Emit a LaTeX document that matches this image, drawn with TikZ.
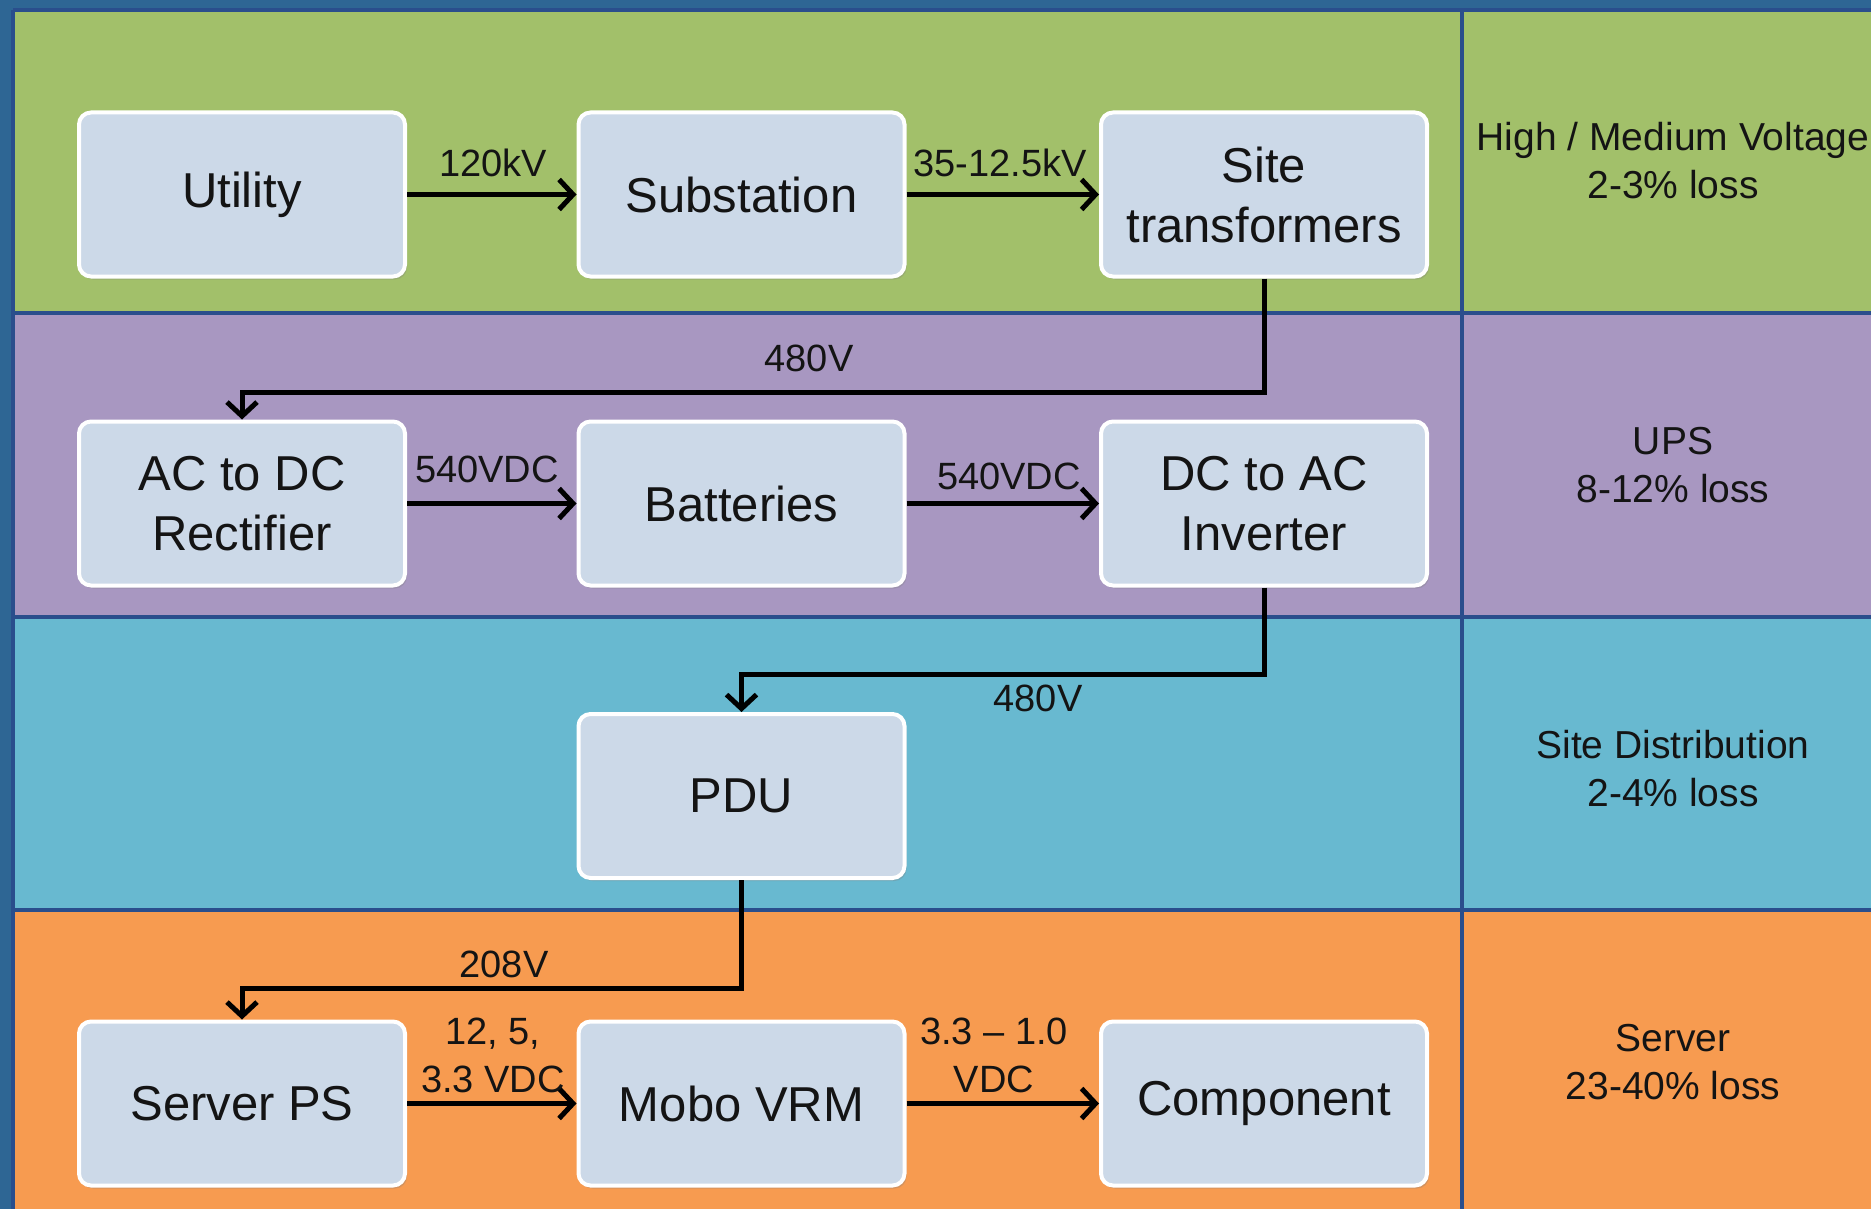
\documentclass[tikz,border=0pt]{standalone}
\usepackage{fontspec}
\setmainfont{Liberation Sans}
\usetikzlibrary{arrows.meta,shadows}
\definecolor{frameblue}{HTML}{2E6694}
\definecolor{divblue}{HTML}{2A4E8C}
\definecolor{bandgreen}{HTML}{A2C06A}
\definecolor{bandpurple}{HTML}{A897C1}
\definecolor{bandteal}{HTML}{68B9D0}
\definecolor{bandorange}{HTML}{F79B50}
\definecolor{boxfill}{HTML}{CCD9E8}
\definecolor{textdark}{HTML}{141414}
\begin{document}
\begin{tikzpicture}[x=1pt,y=-1pt,
  box/.style={draw=white, line width=4pt, rounded corners=12pt, fill=boxfill,
    minimum width=326pt, minimum height=164pt, align=center, inner sep=0pt,
    text=textdark, font=\fontsize{49}{60}\selectfont,
    drop shadow={shadow xshift=2pt, shadow yshift=-3pt, opacity=0.3}},
  lbl/.style={inner sep=0pt, align=center, text=textdark, font=\fontsize{38}{48}\selectfont},
  side/.style={inner sep=0pt, align=center, text=textdark, font=\fontsize{39}{48}\selectfont},
  arr/.style={draw=black, line width=5pt, -{Straight Barb[length=14pt,width=30pt]}},
  divider/.style={draw=divblue, line width=4pt}]
\useasboundingbox (0,0) rectangle (1871,1209);
\clip (0,0) rectangle (1871,1209);
% frame and bands
\fill[frameblue] (0,0) rectangle (1871,1209);
\fill[bandgreen] (13,10) rectangle (1871,313);
\fill[bandpurple] (13,313) rectangle (1871,617);
\fill[bandteal] (13,617) rectangle (1871,910);
\fill[bandorange] (13,910) rectangle (1871,1209);
\draw[divider] (13,10) -- (1871,10);
\draw[divider] (13,10) -- (13,1209);
\draw[divider] (13,313) -- (1871,313);
\draw[divider] (13,617) -- (1871,617);
\draw[divider] (13,910) -- (1871,910);
\draw[divider] (1462,10) -- (1462,1209);
% boxes
\node[box] (ut) at (242,194.5) {Utility};
\node[box] (sub) at (741.5,194.5) {Substation};
\node[box] (st) at (1264,194.5) {Site\\transformers};
\node[box] (acdc) at (242,503.5) {AC to DC\\Rectifier};
\node[box] (bat) at (741.5,503.5) {Batteries};
\node[box] (dcac) at (1264,503.5) {DC to AC\\Inverter};
\node[box] (pdu) at (741.5,796) {PDU};
\node[box] (sps) at (242,1103.5) {Server PS};
\node[box] (vrm) at (741.5,1103.5) {Mobo VRM};
\node[box] (comp) at (1264,1103.5) {Component};
% junction coordinates
\coordinate (k1) at (242,392);
\coordinate (k2) at (741.5,674);
\coordinate (k3) at (242,988);
% connectors
\draw[arr] (ut.east) -- (sub.west);
\draw[arr] (sub.east) -- (st.west);
\draw[arr, line join=miter] (st.south) |- (k1) -- (acdc.north);
\draw[arr] (acdc.east) -- (bat.west);
\draw[arr] (bat.east) -- (dcac.west);
\draw[arr, line join=miter] (dcac.south) |- (k2) -- (pdu.north);
\draw[arr, line join=miter] (pdu.south) |- (k3) -- (sps.north);
\draw[arr] (sps.east) -- (vrm.west);
\draw[arr] (vrm.east) -- (comp.west);
% connector labels
\node[lbl] (l1) at (493,163) {120kV};
\node[lbl] (l2) at (1000,163) {35-12.5kV};
\node[lbl] (l3) at (809,358) {480V};
\node[lbl] (l4) at (487,469) {540VDC};
\node[lbl] (l5) at (1009,476) {540VDC};
\node[lbl] (l6) at (1038,698) {480V};
\node[lbl] (l7) at (504,964) {208V};
\node[lbl] (l8) at (493,1055) {12, 5,\\3.3 VDC};
\node[lbl] (l9) at (994,1055) {3.3 – 1.0\\VDC};
% side notes
\node[side] (s1) at (1673,161) {High / Medium Voltage\\2-3\% loss};
\node[side] (s2) at (1673,465) {UPS\\8-12\% loss};
\node[side] (s3) at (1673,769) {Site Distribution\\2-4\% loss};
\node[side] (s4) at (1673,1062) {Server\\23-40\% loss};
\end{tikzpicture}
\end{document}
